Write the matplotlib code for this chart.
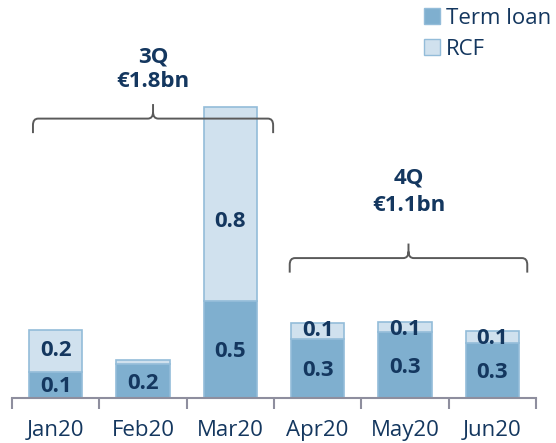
import matplotlib.pyplot as plt
from matplotlib.path import Path
from matplotlib.patches import PathPatch, Patch

months = ["Jan20", "Feb20", "Mar20", "Apr20", "May20", "Jun20"]
term_loan = [0.12, 0.155, 0.44, 0.27, 0.30, 0.25]
rcf = [0.19, 0.018, 0.885, 0.07, 0.045, 0.055]
term_labels = ["0.1", "0.2", "0.5", "0.3", "0.3", "0.3"]
rcf_labels = ["0.2", "", "0.8", "0.1", "0.1", "0.1"]
# name, amount, first bar, last bar
groups = [("3Q", "€1.8bn", 0, 2), ("4Q", "€1.1bn", 3, 5)]

navy = "#14375f"
c_term = "#7fafcf"
c_rcf = "#d0e1ee"
c_edge = "#93bcd9"
grey = "#5a5a5a"

plt.rcParams["font.family"] = ["Open Sans", "DejaVu Sans"]

fig = plt.figure(figsize=(5.56, 4.43), dpi=100)
ax = fig.add_axes([12 / 556, 45 / 443, 524 / 556, 398 / 443])

x = list(range(len(months)))
ax.bar(x, term_loan, width=0.61, color=c_term, edgecolor=c_edge, linewidth=1.2)
ax.bar(x, rcf, width=0.61, bottom=term_loan, color=c_rcf, edgecolor=c_edge, linewidth=1.2)

# value labels
for i in x:
    ax.text(i, term_loan[i] / 2 - 0.01, term_labels[i],
            ha="center", va="center", fontsize=16, fontweight="bold", color=navy)
    if rcf_labels[i]:
        if rcf[i] < 0.1:
            yy = term_loan[i] + rcf[i] - 0.035
        elif rcf[i] > 0.5:
            yy = term_loan[i] + rcf[i] * 0.41
        else:
            yy = term_loan[i] + rcf[i] / 2
        ax.text(i, yy, rcf_labels[i], ha="center", va="center",
                fontsize=16, fontweight="bold", color=navy)

ax.set_xlim(-0.5, 5.5)
ax.set_ylim(0, 398 / 220)


def brace(x0, x1, y, h, r):
    xm = (x0 + x1) / 2
    rx = 0.06
    verts = [(x0, y - h), (x0, y - r), (x0, y), (x0 + rx, y),
             (xm - rx, y), (xm, y), (xm, y + r),
             (xm, y + h), (xm, y + r), (xm, y), (xm + rx, y),
             (x1 - rx, y), (x1, y), (x1, y - r), (x1, y - h)]
    codes = [Path.MOVETO, Path.LINETO, Path.CURVE3, Path.CURVE3,
             Path.LINETO, Path.CURVE3, Path.CURVE3,
             Path.LINETO, Path.MOVETO, Path.CURVE3, Path.CURVE3,
             Path.LINETO, Path.CURVE3, Path.CURVE3, Path.LINETO]
    ax.add_patch(PathPatch(Path(verts, codes), fill=False, edgecolor=grey,
                           linewidth=1.4, clip_on=False))


brace_y = [1.27, 0.636]
brace_pad = [(-0.26, 0.49), (-0.32, 0.40)]
amount_off = [0.17, 0.241]
name_off = [0.28, 0.365]
for k, (name, amount, a, b) in enumerate(groups):
    x0, x1 = a + brace_pad[k][0], b + brace_pad[k][1]
    brace(x0, x1, brace_y[k], 0.066, 0.03)
    xm = (x0 + x1) / 2
    ax.text(xm, brace_y[k] + amount_off[k], amount, ha="center", va="center",
            fontsize=16, fontweight="bold", color=navy)
    ax.text(xm, brace_y[k] + name_off[k], name, ha="center", va="center",
            fontsize=16, fontweight="bold", color=navy)

for s in ["top", "right", "left"]:
    ax.spines[s].set_visible(False)
ax.spines["bottom"].set_color("#8e8e9e")
ax.spines["bottom"].set_linewidth(1.5)
ax.set_yticks([])
ax.set_xticks(x)
ax.set_xticklabels(months, fontsize=16, color=navy)
ax.tick_params(axis="x", which="major", length=0, pad=16)
ax.set_xticks([i - 0.5 for i in range(len(months) + 1)], minor=True)
ax.tick_params(axis="x", which="minor", length=8, width=1.5, color="#8e8e9e")

handles = [Patch(facecolor=c_term, edgecolor=c_edge, label="Term loan"),
           Patch(facecolor=c_rcf, edgecolor=c_edge, label="RCF")]
fig.legend(handles=handles, loc="upper right", bbox_to_anchor=(1.016, 1.012),
           frameon=False, fontsize=16, handlelength=0.7, handleheight=0.7,
           handletextpad=0.3, labelspacing=0.45, labelcolor=navy,
           borderaxespad=0.2)

fig.savefig("out.png", dpi=100)
